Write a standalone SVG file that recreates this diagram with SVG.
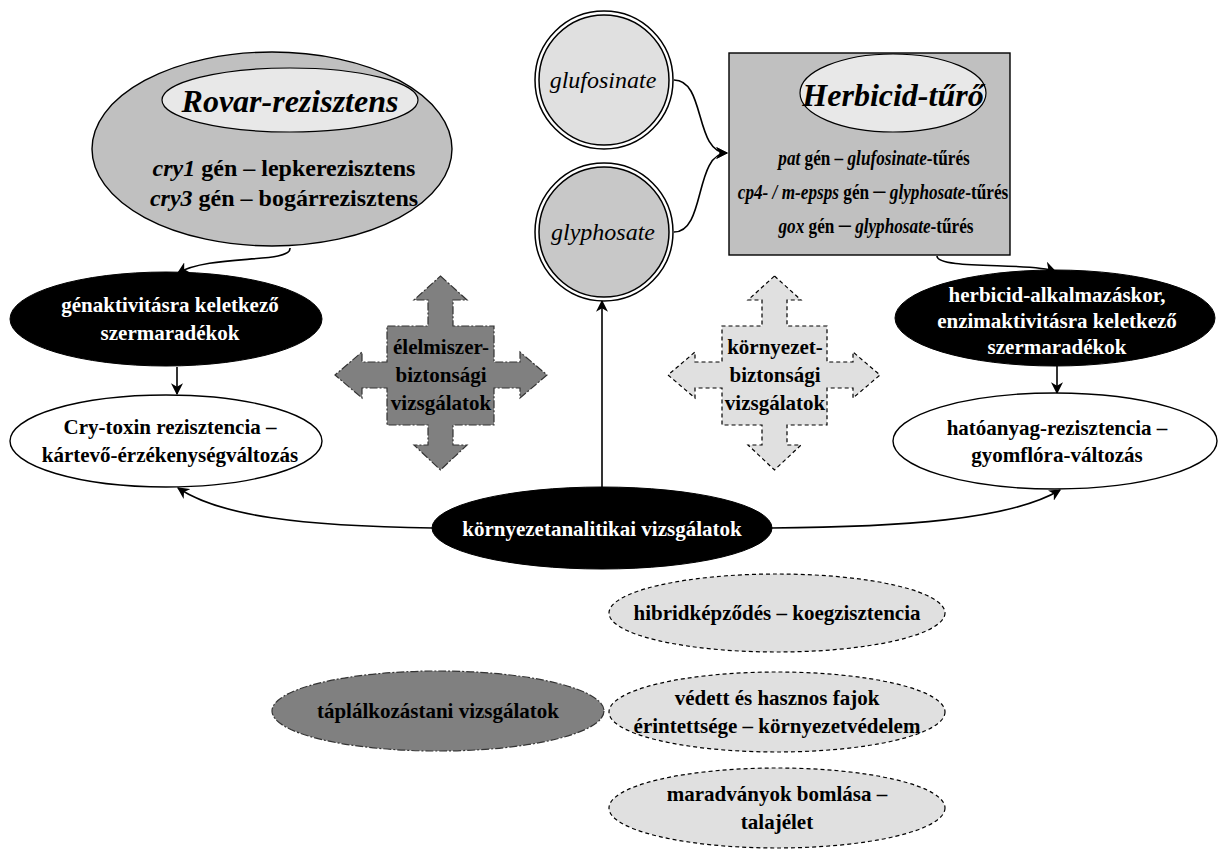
<svg xmlns="http://www.w3.org/2000/svg" width="1218" height="857" viewBox="0 0 1218 857">
<style>
text{font-family:"Liberation Serif","Times New Roman",serif;font-weight:bold;text-anchor:middle;fill:#000}
.t21{font-size:21px}
.t24{font-size:24px}
.w{fill:#fff}
.i{font-style:italic}
.big{font-size:32px;font-style:italic}
.herb{font-size:24px;font-weight:normal;font-style:italic}
.row{font-size:21.5px}
.conn{fill:none;stroke:#000;stroke-width:1.6}
.blk{fill:#000;stroke:#000;stroke-width:1}
.wht{fill:#fff;stroke:#000;stroke-width:1.4}
.dash{fill:#e0e0e0;stroke:#000;stroke-width:1.2;stroke-dasharray:4 3}
.dashdot{fill:#808080;stroke:#333;stroke-width:1.2;stroke-dasharray:8 2 2 2}
</style>
<defs>
<marker id="arr" viewBox="0 0 10 10" refX="9" refY="5" markerWidth="12" markerHeight="12" markerUnits="userSpaceOnUse" orient="auto">
<path d="M0,0 L10,5 L0,10 L3,5 Z" fill="#000"/>
</marker>
</defs>

<g id="connectors">
<path class="conn" d="M290,248 C292,264 210,254 178,273" marker-end="url(#arr)"/>
<path class="conn" d="M177,367 L177,394" marker-end="url(#arr)"/>
<path class="conn" d="M674,80 C706,80 694,153 727,153" marker-end="url(#arr)"/>
<path class="conn" d="M674,232 C706,232 694,153 727,153" marker-end="url(#arr)"/>
<path class="conn" d="M937,256 C937,270 1030,262 1055,271" marker-end="url(#arr)"/>
<path class="conn" d="M1057,366 L1057,393" marker-end="url(#arr)"/>
<path class="conn" d="M602,487 L602,301" marker-end="url(#arr)"/>
<path class="conn" d="M433,528 C300,526 220,516 178,488" marker-end="url(#arr)"/>
<path class="conn" d="M771,528 C900,527 1010,520 1060,490" marker-end="url(#arr)"/>
</g>

<g id="rovar">
<ellipse cx="272" cy="149" rx="180" ry="97" fill="#c0c0c0" stroke="#000" stroke-width="1.4"/>
<ellipse cx="290" cy="100" rx="128" ry="32" fill="#e8e8e8" stroke="#000" stroke-width="1.2"/>
<text x="290" y="112" class="big">Rovar-rezisztens</text>
<text x="284" y="176" class="t24"><tspan class="i">cry1</tspan> gén – lepkerezisztens</text>
<text x="284" y="206" class="t24"><tspan class="i">cry3</tspan> gén – bogárrezisztens</text>
</g>

<g id="glufosinate">
<circle cx="604" cy="80" r="69" fill="#fff" stroke="#000" stroke-width="1.5"/>
<circle cx="604" cy="80" r="65" fill="#e0e0e0" stroke="#000" stroke-width="1.5"/>
<text x="603" y="88" class="herb">glufosinate</text>
</g>

<g id="glyphosate">
<circle cx="604" cy="232" r="69" fill="#fff" stroke="#000" stroke-width="1.5"/>
<circle cx="604" cy="232" r="65" fill="#c8c8c8" stroke="#000" stroke-width="1.5"/>
<text x="603" y="240" class="herb">glyphosate</text>
</g>

<g id="herbicid">
<rect x="729" y="53" width="281" height="202" fill="#c0c0c0" stroke="#000" stroke-width="1.4"/>
<ellipse cx="893" cy="93" rx="93" ry="39" fill="#e8e8e8" stroke="#000" stroke-width="1.2"/>
<text x="893" y="106" class="big">Herbicid-tűrő</text>
<text transform="translate(874,165) scale(0.8,1)" class="row"><tspan class="i">pat</tspan> gén – <tspan class="i">glufosinate</tspan>-tűrés</text>
<text transform="translate(873,199) scale(0.8,1)" class="row"><tspan class="i">cp4- / m-epsps</tspan> gén ─ <tspan class="i">glyphosate</tspan>-tűrés</text>
<text transform="translate(876,233) scale(0.8,1)" class="row"><tspan class="i">gox</tspan> gén ─ <tspan class="i">glyphosate</tspan>-tűrés</text>
</g>

<g id="genaktivitas">
<ellipse cx="166" cy="319" rx="156" ry="47" class="blk"/>
<text x="170" y="312" class="t21 w">génaktivitásra keletkező</text>
<text x="170" y="340" class="t21 w">szermaradékok</text>
</g>

<g id="crytoxin">
<ellipse cx="166" cy="441" rx="156" ry="46" class="wht"/>
<text x="170" y="434" class="t21">Cry-toxin rezisztencia –</text>
<text x="170" y="462" class="t21">kártevő-érzékenységváltozás</text>
</g>

<g id="herbicid-residue">
<ellipse cx="1055" cy="318" rx="160" ry="48" class="blk"/>
<text x="1057" y="302" class="t21 w">herbicid-alkalmazáskor,</text>
<text x="1057" y="328" class="t21 w">enzimaktivitásra keletkező</text>
<text x="1057" y="354" class="t21 w">szermaradékok</text>
</g>

<g id="hatoanyag">
<ellipse cx="1055" cy="441" rx="162" ry="48" class="wht"/>
<text x="1057" y="435" class="t21">hatóanyag-rezisztencia –</text>
<text x="1057" y="462" class="t21">gyomflóra-változás</text>
</g>

<g id="elelmiszer">
<path class="dashdot" d="M440.5,276 L467,300 L453,300 L453,326 L494,326 L494,362 L520,362 L520,352 L547,375 L520,398 L520,388 L494,388 L494,425 L453,425 L453,445 L467,445 L440.5,470 L414,445 L428,445 L428,425 L387,425 L387,388 L362,388 L362,398 L335,375 L362,352 L362,362 L387,362 L387,326 L428,326 L428,300 L414,300 Z"/>
<text x="441" y="354" class="t21">élelmiszer-</text>
<text x="441" y="382" class="t21">biztonsági</text>
<text x="441" y="410" class="t21">vizsgálatok</text>
</g>

<g id="kornyezet">
<path class="dash" d="M774.5,276 L801,300 L787,300 L787,326 L827,326 L827,362 L853,362 L853,352 L880,375 L853,398 L853,388 L827,388 L827,425 L787,425 L787,445 L801,445 L774.5,470 L748,445 L762,445 L762,425 L722,425 L722,388 L695,388 L695,398 L668,375 L695,352 L695,362 L722,362 L722,326 L762,326 L762,300 L748,300 Z"/>
<text x="775" y="354" class="t21">környezet-</text>
<text x="775" y="382" class="t21">biztonsági</text>
<text x="775" y="410" class="t21">vizsgálatok</text>
</g>

<g id="kornyezetanalitikai">
<ellipse cx="602" cy="528" rx="170" ry="41" class="blk"/>
<text x="602" y="536" class="t21 w">környezetanalitikai vizsgálatok</text>
</g>

<g id="hibrid">
<ellipse cx="777" cy="613" rx="168" ry="39" class="dash"/>
<text x="777" y="620" class="t21">hibridképződés – koegzisztencia</text>
</g>

<g id="vedett">
<ellipse cx="777" cy="712" rx="168" ry="40" class="dash"/>
<text x="777" y="705" class="t21">védett és hasznos fajok</text>
<text x="777" y="733" class="t21">érintettsége – környezetvédelem</text>
</g>

<g id="maradvanyok">
<ellipse cx="777" cy="808" rx="168" ry="40" class="dash"/>
<text x="777" y="801" class="t21">maradványok bomlása –</text>
<text x="777" y="829" class="t21">talajélet</text>
</g>

<g id="taplalkozas">
<ellipse cx="438" cy="711" rx="166" ry="40" class="dashdot"/>
<text x="438" y="718" class="t21">táplálkozástani vizsgálatok</text>
</g>
</svg>
